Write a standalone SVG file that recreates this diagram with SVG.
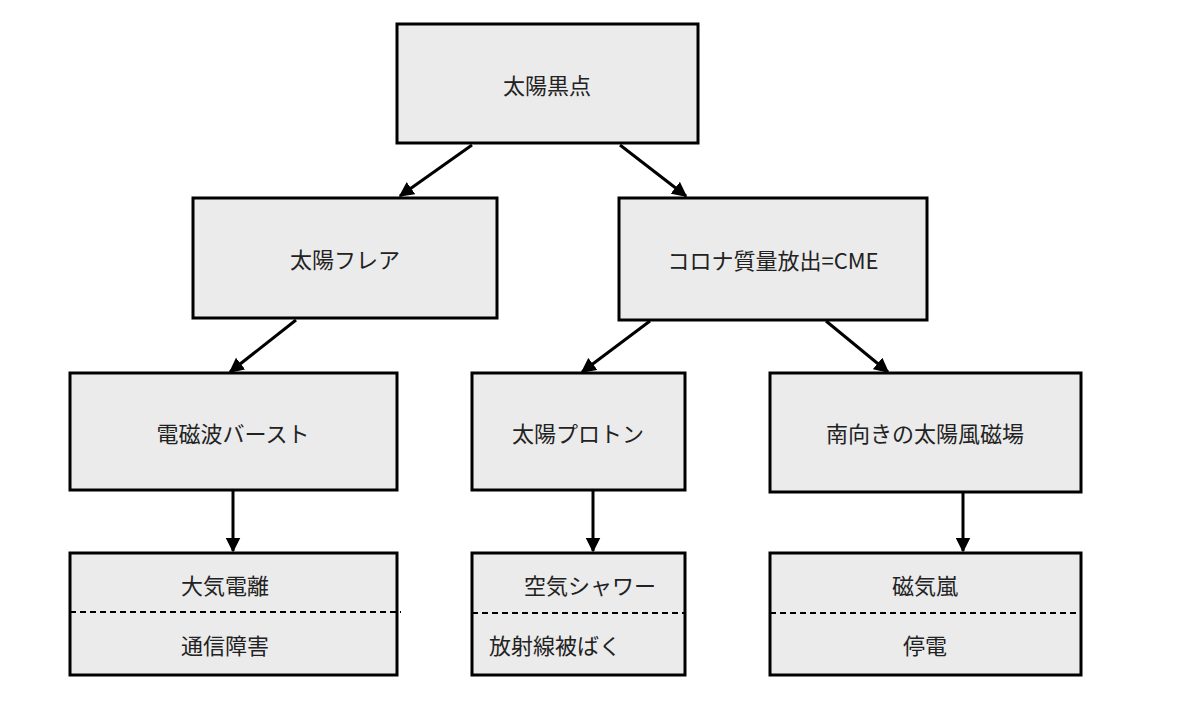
<svg xmlns="http://www.w3.org/2000/svg" width="1200" height="707" viewBox="0 0 1200 707">
<style>
.b{fill:#ebebeb;stroke:#000;stroke-width:3}
.t{font-family:"Noto Sans CJK JP","Noto Sans",sans-serif;font-size:22px;fill:#222;text-anchor:middle;dominant-baseline:central}
.d{stroke:#000;stroke-width:2;stroke-dasharray:6 4}
.c{stroke:#000;stroke-width:3;fill:none;marker-end:url(#a)}
</style>
<defs><marker id="a" viewBox="0 0 10 10" refX="9" refY="5" markerWidth="5" markerHeight="5" orient="auto"><path d="M0,0L10,5L0,10z" fill="#000"/></marker></defs>
<rect width="1200" height="707" fill="#fff"/>
<g id="n1"><rect class="b" x="397" y="24" width="301" height="119"/><text class="t" x="547" y="84">太陽黒点</text></g>
<g id="n2"><rect class="b" x="193" y="198" width="304" height="120"/><text class="t" x="345" y="258">太陽フレア</text></g>
<g id="n3"><rect class="b" x="619" y="198" width="308" height="122"/><text class="t" x="773" y="259">コロナ質量放出=CME</text></g>
<g id="n4"><rect class="b" x="70" y="373" width="327" height="117"/><text class="t" x="233" y="432">電磁波バースト</text></g>
<g id="n5"><rect class="b" x="472" y="373" width="213" height="117"/><text class="t" x="578" y="432">太陽プロトン</text></g>
<g id="n6"><rect class="b" x="770" y="373" width="311" height="119"/><text class="t" x="925" y="432">南向きの太陽風磁場</text></g>
<g id="n7"><rect class="b" x="70" y="553" width="327" height="122"/><line class="d" x1="70" y1="612" x2="401" y2="612"/><text class="t" x="225" y="584">大気電離</text><text class="t" x="225" y="644">通信障害</text></g>
<g id="n8"><rect class="b" x="472" y="553" width="213" height="122"/><line class="d" x1="472" y1="613" x2="685" y2="613"/><text class="t" x="590" y="584">空気シャワー</text><text class="t" x="555" y="644">放射線被ばく</text></g>
<g id="n9"><rect class="b" x="770" y="553" width="311" height="122"/><line class="d" x1="770" y1="613" x2="1081" y2="613"/><text class="t" x="925" y="584">磁気嵐</text><text class="t" x="925" y="644">停電</text></g>
<g id="connectors">
<line class="c" x1="472" y1="145" x2="400" y2="196"/>
<line class="c" x1="620" y1="145" x2="686" y2="196"/>
<line class="c" x1="296" y1="320" x2="230" y2="372"/>
<line class="c" x1="650" y1="321" x2="582" y2="372"/>
<line class="c" x1="826" y1="321" x2="888" y2="372"/>
<line class="c" x1="233" y1="491" x2="233" y2="551"/>
<line class="c" x1="593" y1="491" x2="593" y2="551"/>
<line class="c" x1="963" y1="493" x2="963" y2="551"/>
</g>
</svg>
